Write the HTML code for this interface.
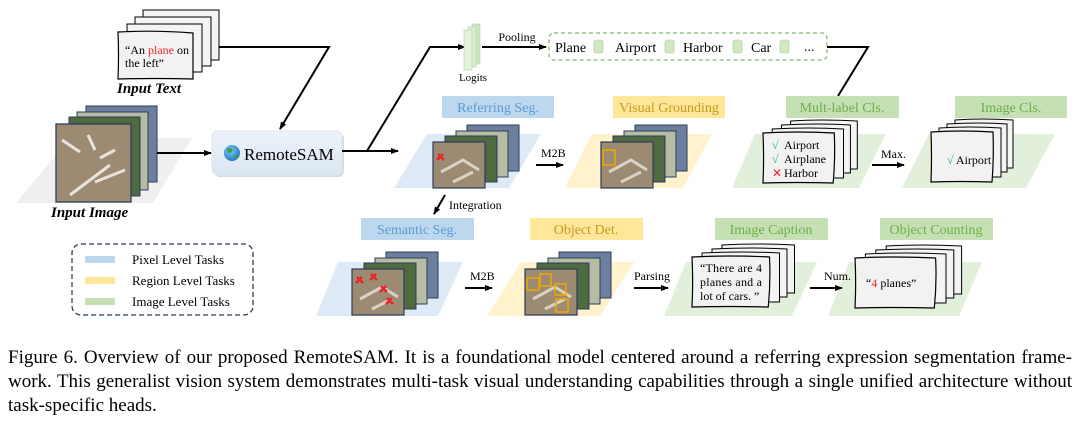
<!DOCTYPE html>
<html><head><meta charset="utf-8"><style>
html,body{margin:0;padding:0;background:#fff;}
body{position:relative;width:1080px;height:425px;overflow:hidden;}
svg{display:block;position:absolute;left:0;top:0;}
text{font-family:"Liberation Serif",serif;}
.cap{position:absolute;left:8px;width:1064px;font-family:"Liberation Serif",serif;font-size:19px;line-height:24px;white-space:nowrap;}
.j{text-align:justify;text-align-last:justify;}
</style></head><body>
<svg width="1080" height="425" viewBox="0 0 1080 425" xmlns="http://www.w3.org/2000/svg">
<defs>
<marker id="ar" markerWidth="8" markerHeight="8" refX="7" refY="4" orient="auto" markerUnits="userSpaceOnUse">
<path d="M0,1 L8,4 L0,7 z" fill="#000"/></marker>
<linearGradient id="sam" x1="0" y1="0" x2="0" y2="1"><stop offset="0" stop-color="#eef3fa"/><stop offset="1" stop-color="#dbe6f2"/></linearGradient>
<radialGradient id="globe" cx="0.4" cy="0.35" r="0.7"><stop offset="0" stop-color="#7fd0ff"/><stop offset="1" stop-color="#1f6fc0"/></radialGradient>
<g id="stack">
<rect x="34" y="-17" width="52" height="46" fill="#6c7f9f" stroke="#2d3c5a" stroke-width="1"/>
<rect x="23" y="-11" width="52" height="46" fill="#b7bda3" stroke="#2d3c5a" stroke-width="1"/>
<rect x="12" y="-6" width="52" height="46" fill="#4e6a40" stroke="#2d3c5a" stroke-width="1"/>
<rect x="0" y="0" width="52" height="46" fill="#9c8a72" stroke="#2d3c5a" stroke-width="1.2"/>
<path d="M8,30 L30,18 L46,28 M20,40 L40,30" stroke="#d9d2c4" stroke-width="3" fill="none"/>
</g>
<g id="card">
<path d="M24,-12 Q50,-14 82,-12 L82,36 L24,36 z" fill="#f4f4f4" stroke="#000" stroke-width="1" vector-effect="non-scaling-stroke"/>
<path d="M16,-8 Q50,-10 76,-8 L76,40 L16,40 z" fill="#f4f4f4" stroke="#000" stroke-width="1" vector-effect="non-scaling-stroke"/>
<path d="M8,-4 Q40,-6 70,-4 L70,45 L8,45 z" fill="#f4f4f4" stroke="#000" stroke-width="1" vector-effect="non-scaling-stroke"/>
<path d="M0,0 Q30,-2 62,0 Q63,25 61,50 Q30,49 0,50 Q1,25 0,0 z" fill="#f2f2f2" stroke="#000" stroke-width="1.2" vector-effect="non-scaling-stroke"/>
</g>
</defs>

<path d="M143,10 L219,10 L219,60 L143,60 z" fill="#f4f4f4" stroke="#000"/>
<path d="M135,17 L211,17 L211,66 L135,66 z" fill="#f4f4f4" stroke="#000"/>
<path d="M127,24 L202,24 L202,72 L127,72 z" fill="#f4f4f4" stroke="#000"/>
<path d="M118,32 Q155,30 193,33 L193,79 Q155,78 118,79 Q119,55 118,32 z" fill="#f2f2f2" stroke="#000" stroke-width="1.2"/>
<text x="125" y="54" font-size="12">“An <tspan fill="#e8262b">plane</tspan> on</text>
<text x="125" y="67" font-size="12">the left”</text>
<text x="117" y="93" font-size="15" font-weight="bold" font-style="italic">Input Text</text>

<polygon points="70,138 192,138 153,203 16,203" fill="#efefef"/>
<rect x="86" y="106" width="71" height="76" fill="#6c7f9f" stroke="#2d3c5a"/>
<rect x="77" y="112" width="71" height="78" fill="#b7bda3" stroke="#2d3c5a"/>
<rect x="69" y="117" width="71" height="79" fill="#4e6a40" stroke="#2d3c5a"/>
<rect x="56" y="124" width="75" height="78" fill="#9c8a72" stroke="#2d3c5a" stroke-width="1.3"/>
<path d="M62,140 L80,152 M88,135 L95,150 M100,158 L115,150 M95,182 L125,170 M70,195 L110,165" stroke="#e8e4dc" stroke-width="3" fill="none"/>
<text x="51" y="217" font-size="15" font-weight="bold" font-style="italic">Input Image</text>

<line x1="157" y1="153" x2="211" y2="153" stroke="#000" stroke-width="2" marker-end="url(#ar)"/>
<polyline points="219,47 329,47 280,129" fill="none" stroke="#000" stroke-width="2" marker-end="url(#ar)"/>

<rect x="214" y="133" width="130" height="44" rx="6" fill="#d5dbe3"/>
<rect x="212" y="131" width="130" height="44" rx="6" fill="url(#sam)" stroke="#dde5ee"/>
<circle cx="232" cy="153" r="8" fill="url(#globe)"/>
<path d="M227,149 q4,-3 6,1 q-2,4 -5,3 z M234,155 q4,-1 4,3 q-3,2 -4,-3z" fill="#3da24a"/>
<text x="244" y="160" font-size="17">RemoteSAM</text>

<line x1="342" y1="151" x2="398" y2="151" stroke="#000" stroke-width="2" marker-end="url(#ar)"/>
<polyline points="367,151 430,47 465,47" fill="none" stroke="#000" stroke-width="2" marker-end="url(#ar)"/>

<rect x="472" y="24" width="8" height="40" fill="#cfe6c3" stroke="#b5cfa6" stroke-width="0.6"/>
<rect x="468" y="27" width="8" height="40" fill="#dcefd0" stroke="#b5cfa6" stroke-width="0.6"/>
<rect x="464" y="30" width="8" height="40" fill="#e6f3dc" stroke="#b5cfa6" stroke-width="0.6"/>
<text x="473" y="81" font-size="11" text-anchor="middle">Logits</text>
<line x1="482" y1="47" x2="546" y2="47" stroke="#000" stroke-width="2" marker-end="url(#ar)"/>
<text x="517" y="41" font-size="12" text-anchor="middle">Pooling</text>

<rect x="549" y="33" width="278" height="27" rx="5" fill="none" stroke="#7fb96a" stroke-width="1.2" stroke-dasharray="4,3"/>
<g font-size="14">
<text x="555" y="52">Plane</text><text x="615" y="52">Airport</text><text x="683" y="52">Harbor</text><text x="751" y="52">Car</text><text x="804" y="51">...</text>
</g>
<g fill="#d2e8c3" stroke="#a9c993" stroke-width="0.6">
<rect x="594" y="40" width="9" height="13" rx="2"/><rect x="665" y="40" width="9" height="13" rx="2"/><rect x="733" y="40" width="9" height="13" rx="2"/><rect x="780" y="40" width="9" height="13" rx="2"/>
</g>
<polyline points="827,47 868,47 838,96" fill="none" stroke="#000" stroke-width="2"/>

<rect x="442" y="96" width="112" height="22" fill="#bdd7ee"/><text x="498" y="112" font-size="14" fill="#5b9bd5" text-anchor="middle">Referring Seg.</text>
<rect x="613" y="96" width="112" height="22" fill="#ffe699"/><text x="669" y="112" font-size="14" fill="#c59a1c" text-anchor="middle">Visual Grounding</text>
<rect x="786" y="96" width="113" height="22" fill="#c5e0b4"/><text x="842" y="112" font-size="14" fill="#70ad47" text-anchor="middle">Mult-label Cls.</text>
<rect x="955" y="96" width="112" height="22" fill="#c5e0b4"/><text x="1011" y="112" font-size="14" fill="#70ad47" text-anchor="middle">Image Cls.</text>

<polygon points="427,134 541,134 509,188 394,188" fill="#deebf7"/>
<polygon points="592,134 712,134 683,188 565,188" fill="#fff2cc"/>
<polygon points="755,134 886,134 859,188 732,188" fill="#e2efda"/>
<polygon points="929,134 1055,134 1026,188 902,188" fill="#e2efda"/>

<use href="#stack" x="433" y="142"/>
<path d="M437,160 l6,-6 M438,154 l6,6" stroke="#e8262b" stroke-width="2.5"/>
<use href="#stack" x="601" y="142"/>
<rect x="603" y="150" width="12" height="15" fill="none" stroke="#f0a800" stroke-width="1.5"/>
<text x="541" y="157" font-size="12">M2B</text>
<line x1="536" y1="165" x2="563" y2="165" stroke="#000" stroke-width="2" marker-end="url(#ar)"/>

<use href="#card" transform="translate(763,133) scale(1.15,1)"/>
<g font-size="12"><text x="772" y="149" fill="#2fbf71">√</text><text x="784" y="149">Airport</text>
<text x="772" y="163" fill="#2fbf71">√</text><text x="784" y="163">Airplane</text>
<text x="772" y="177" fill="#e8262b">✕</text><text x="784" y="177">Harbor</text></g>
<text x="881" y="158" font-size="12">Max.</text>
<line x1="872" y1="165" x2="904" y2="165" stroke="#000" stroke-width="2" marker-end="url(#ar)"/>
<use href="#card" transform="translate(931,132) scale(1.0,1)"/>
<text x="947" y="164" font-size="12"><tspan fill="#2fbf71">√</tspan> Airport</text>

<line x1="445" y1="195" x2="434" y2="214" stroke="#000" stroke-width="2" marker-end="url(#ar)"/>
<text x="449" y="209" font-size="12">Integration</text>

<rect x="361" y="218" width="113" height="22" fill="#bdd7ee"/><text x="417" y="234" font-size="14" fill="#5b9bd5" text-anchor="middle">Semantic Seg.</text>
<rect x="530" y="218" width="113" height="22" fill="#ffe699"/><text x="586" y="234" font-size="14" fill="#c59a1c" text-anchor="middle">Object Det.</text>
<rect x="715" y="218" width="113" height="22" fill="#c5e0b4"/><text x="771" y="234" font-size="14" fill="#70ad47" text-anchor="middle">Image Caption</text>
<rect x="880" y="218" width="113" height="22" fill="#c5e0b4"/><text x="936" y="234" font-size="14" fill="#70ad47" text-anchor="middle">Object Counting</text>

<polygon points="338,262 463,262 438,316 316,316" fill="#deebf7"/>
<polygon points="521,262 634,262 600,316 487,316" fill="#fff2cc"/>
<polygon points="686,262 817,262 792,316 664,316" fill="#e2efda"/>
<polygon points="849,262 982,262 959,316 828,316" fill="#e2efda"/>

<use href="#stack" x="352" y="269"/>
<g stroke="#e8262b" stroke-width="2.5"><path d="M356,283 l6,-6 M357,277 l6,6 M370,280 l6,-6 M371,274 l6,6 M380,292 l6,-6 M381,286 l6,6 M386,304 l6,-6 M387,298 l6,6"/></g>
<use href="#stack" x="525" y="269"/>
<g fill="none" stroke="#f0a800" stroke-width="1.5"><rect x="527" y="278" width="12" height="12"/><rect x="540" y="274" width="11" height="12"/><rect x="555" y="284" width="11" height="11"/><rect x="556" y="299" width="12" height="13"/></g>
<text x="470" y="280" font-size="12">M2B</text>
<line x1="465" y1="288" x2="492" y2="288" stroke="#000" stroke-width="2" marker-end="url(#ar)"/>
<text x="634" y="280" font-size="12">Parsing</text>
<line x1="634" y1="288" x2="668" y2="288" stroke="#000" stroke-width="2" marker-end="url(#ar)"/>

<use href="#card" transform="translate(692,257) scale(1.25,1)"/>
<g font-size="12"><text x="700" y="272" textLength="62">“There are 4</text><text x="700" y="286" textLength="62">planes and a</text><text x="700" y="300">lot of cars. ”</text></g>
<text x="824" y="280" font-size="12">Num.</text>
<line x1="810" y1="288" x2="842" y2="288" stroke="#000" stroke-width="2" marker-end="url(#ar)"/>
<use href="#card" transform="translate(855,258) scale(1.3,1)"/>
<text x="866" y="287" font-size="12">“<tspan fill="#e8262b">4</tspan> planes”</text>

<rect x="72" y="244" width="181" height="71" rx="9" fill="none" stroke="#2d3c5a" stroke-width="1.3" stroke-dasharray="5,3"/>
<rect x="85" y="256" width="30" height="7" fill="#bdd7ee"/><text x="132" y="264" font-size="13">Pixel Level Tasks</text>
<rect x="85" y="277" width="30" height="7" fill="#ffe699"/><text x="132" y="285" font-size="13">Region Level Tasks</text>
<rect x="85" y="298" width="30" height="7" fill="#c5e0b4"/><text x="132" y="306" font-size="13">Image Level Tasks</text>
</svg>
<div class="cap j" style="top:346px;">Figure 6. Overview of our proposed RemoteSAM. It is a foundational model centered around a referring expression segmentation frame-</div>
<div class="cap j" style="top:370px;">work. This generalist vision system demonstrates multi-task visual understanding capabilities through a single unified architecture without</div>
<div class="cap" style="top:394px;">task-specific heads.</div>
</body></html>
